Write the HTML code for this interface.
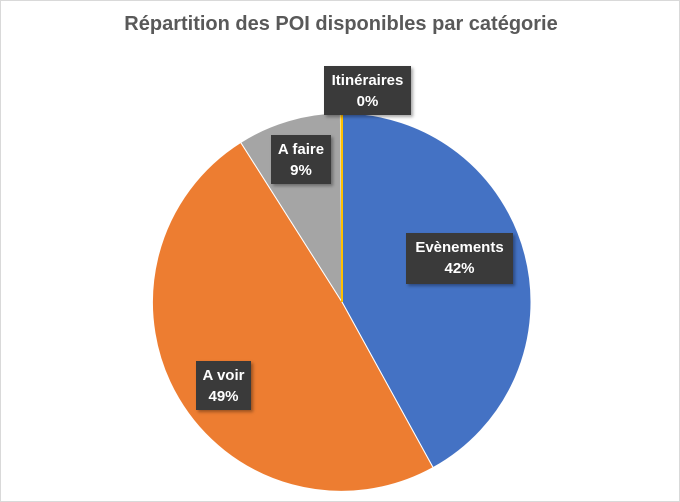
<!DOCTYPE html>
<html><head><meta charset="utf-8"><style>
html,body{margin:0;padding:0;background:#fff;}
.wrap{position:relative;width:678px;height:500px;border:1px solid #d9d9d9;overflow:hidden;font-family:"Liberation Sans",sans-serif;}
.title{position:absolute;left:0;width:680px;top:12px;text-align:center;font-size:20px;font-weight:bold;color:#595959;}
.lbl{position:absolute;background:#3a3a3a;color:#fff;font-weight:bold;font-size:15px;line-height:21px;text-align:center;box-shadow:2px 2px 3px rgba(0,0,0,0.35);padding-top:4px;box-sizing:border-box;}
</style></head><body><div class="wrap">
<div class="title">Répartition des POI disponibles par catégorie</div>
<svg width="680" height="502" style="position:absolute;left:-1px;top:-1px">
<path d="M342,302 L342,113 A189,189 0 0 1 433.1,467.6 Z" fill="#4472c4" stroke="#fff" stroke-width="1"/>
<path d="M342,302 L433.1,467.6 A189,189 0 0 1 240.7,142.4 Z" fill="#ed7d31" stroke="#fff" stroke-width="1"/>
<path d="M342,302 L240.7,142.4 A189,189 0 0 1 340.4,113 Z" fill="#a5a5a5" stroke="#fff" stroke-width="1"/>
<path d="M342,302 L340.4,113 A189,189 0 0 1 342,113 Z" fill="#ffc000"/>
<line x1="342" y1="113" x2="342" y2="302" stroke="#ffc000" stroke-width="2"/>
</svg>
<div class="lbl" style="left:323px;top:65px;width:87px;height:49px">Itinéraires<br>0%</div>
<div class="lbl" style="left:270px;top:134px;width:60px;height:49px">A faire<br>9%</div>
<div class="lbl" style="left:405px;top:232px;width:107px;height:51px">Evènements<br>42%</div>
<div class="lbl" style="left:195px;top:360px;width:55px;height:49px">A voir<br>49%</div>
</div></body></html>
